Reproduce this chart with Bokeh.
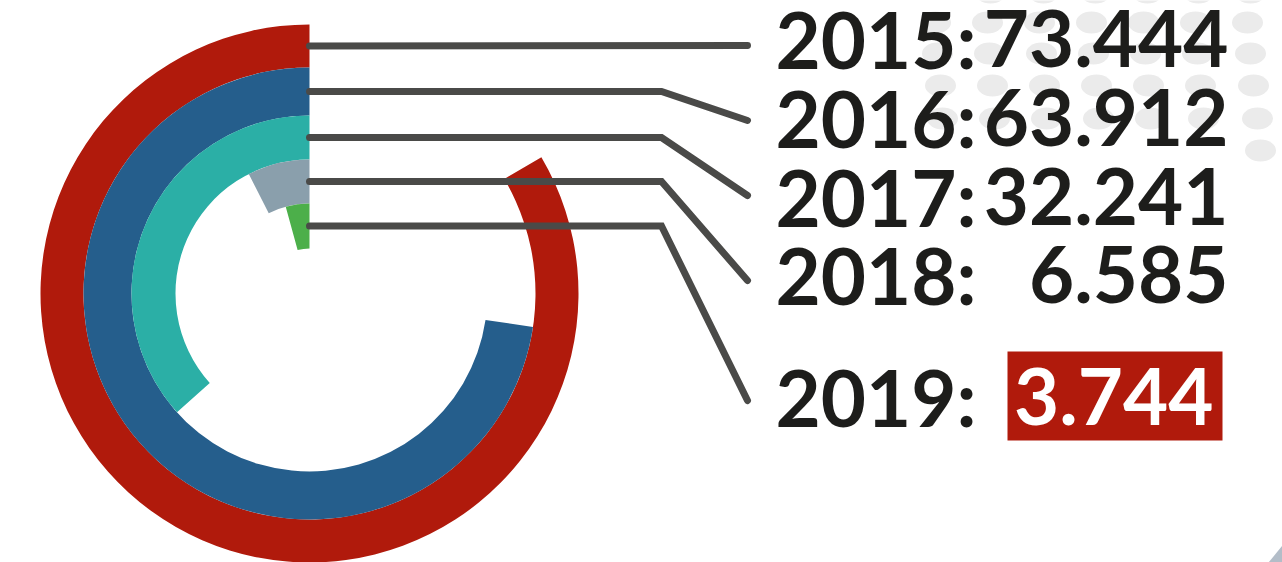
import math
from bokeh.plotting import figure
from bokeh.models import Range1d
from bokeh.core.properties import value
from bokeh.embed import file_html
from bokeh.resources import INLINE

# ---- data ----
years = ["2015", "2016", "2017", "2018", "2019"]
values = [73.444, 63.912, 32.241, 6.585, 3.744]
colors = ["#b01a0c", "#255e8c", "#2bafa6", "#8a9fac", "#4caf4a"]
FULL_SCALE = 88.0   # value that would close a full circle

# ---- layout (reference pixel coordinates, y measured downward) ----
W, H = 1282, 562
def Y(py):
    return H - py

CX, CY = 309, 293
outer_r = [269, 226, 178, 134, 90]
inner_r = [226, 178, 134, 90, 45]
label_baseline = [67, 146, 225, 303, 425]
BASELINE_FIX = -29   # svg text baseline correction
leader_end_y = [45, 120, 195, 280, 400]
LABEL_X = 775
VALUE_RIGHT = 1228
FONT = "Lato"
FSIZE = "78px"
TEXT_COLOR = "#1d1d1b"
LINE_COLOR = "#4a4a48"

p = figure(width=W, height=H,
           x_range=Range1d(0, W), y_range=Range1d(0, H),
           output_backend="svg", toolbar_location=None, min_border=0,
           x_axis_location=None, y_axis_location=None)
p.xgrid.visible = False
p.ygrid.visible = False
p.outline_line_color = None
p.background_fill_color = "white"
p.border_fill_color = "white"

# decorative dot pattern (upper right)
dot_rows = [
    (-8, [990, 1043, 1095, 1147, 1198, 1250]),
    (22, [935, 987, 1039, 1091, 1143, 1195, 1247]),
    (53, [937, 989, 1041, 1093, 1145, 1197, 1250]),
    (85, [940, 992, 1044, 1096, 1148, 1200, 1253]),
    (118, [942, 994, 1046, 1098, 1150, 1203, 1257]),
    (150, [1260]),
]
dx, dy = [], []
for ry, xs in dot_rows:
    for xx in xs:
        dx.append(xx)
        dy.append(Y(ry))
p.ellipse(x=dx, y=dy, width=31, height=22, fill_color="#ebebeb", line_color=None)

# corner triangle
p.patch([1268, 1282, 1282], [Y(562), Y(562), Y(545)], fill_color="#b3bdc8", line_color=None)

# radial bars
start = [math.pi / 2] * len(values)
end = [math.pi / 2 + v / FULL_SCALE * 2 * math.pi for v in values]
p.annular_wedge(x=[CX] * len(values), y=[Y(CY)] * len(values),
                inner_radius=inner_r, outer_radius=outer_r,
                start_angle=start, end_angle=end, direction="anticlock",
                fill_color=colors, line_color=None)

# leader lines
xs_l, ys_l = [], []
for i in range(len(values)):
    ym = CY - (outer_r[i] + inner_r[i]) / 2
    if i == 0:
        xs_l.append([CX, 747])
        ys_l.append([Y(ym), Y(leader_end_y[i])])
    else:
        xs_l.append([CX, 661, 747])
        ys_l.append([Y(ym), Y(ym), Y(leader_end_y[i])])
p.multi_line(xs_l, ys_l, line_color=LINE_COLOR, line_width=7,
             line_cap="round", line_join="miter")

# highlight box for the last value
p.quad(left=[1007], right=[1222], top=[Y(351)], bottom=[Y(440)],
       fill_color="#b01a0c", line_color=None)

# labels
base_y = [Y(b + BASELINE_FIX) for b in label_baseline]
p.text(x=[LABEL_X] * len(years), y=base_y,
       text=[y + ":" for y in years], text_font=value(FONT), text_font_size=FSIZE,
       text_font_style="bold", text_color=TEXT_COLOR,
       text_align="left", text_baseline="alphabetic")

vals_txt = [f"{v:.3f}" for v in values]
p.text(x=[VALUE_RIGHT] * 4, y=base_y[:4],
       text=vals_txt[:4], text_font=value(FONT), text_font_size=FSIZE,
       text_font_style="bold", text_color=TEXT_COLOR,
       text_align="right", text_baseline="alphabetic")
p.text(x=[1213], y=[base_y[4]], text=[vals_txt[4]],
       text_font=value(FONT), text_font_size=FSIZE, text_font_style="bold",
       text_color="white", text_align="right", text_baseline="alphabetic")

open("out.html", "w").write(file_html(p, INLINE))
